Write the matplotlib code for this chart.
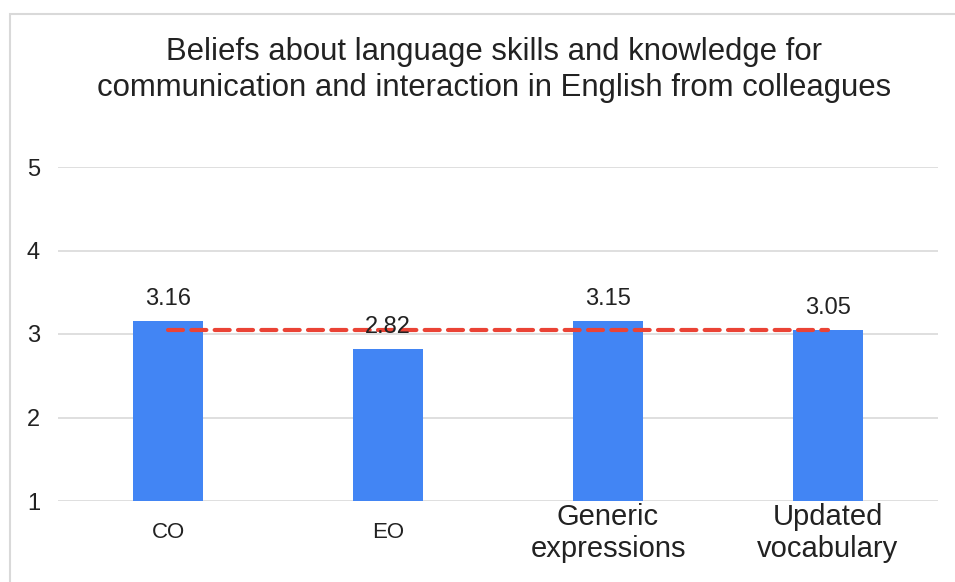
import matplotlib.pyplot as plt
from matplotlib.patches import Rectangle
import numpy as np

# chart data
categories = ['CO', 'EO', 'Generic\nexpressions', 'Updated\nvocabulary']
scores = [3.16, 2.82, 3.15, 3.05]
score_labels = ['3.16', '2.82', '3.15', '3.05']
yticks = [1, 2, 3, 4, 5]

plt.rcParams['font.family'] = ['Liberation Sans', 'DejaVu Sans']

fig = plt.figure(figsize=(9.55, 5.82), dpi=100)
ax = fig.add_axes([58/955, 1-501/582, 880/955, 334/582])

# outer frame of the chart
fig.patches.append(Rectangle((10/955, -0.05), 1.2, 1-14/582+0.05, transform=fig.transFigure,
                             fill=False, edgecolor='#d9d9d9', linewidth=1.5))

x = np.arange(len(categories))
base = 1
ax.bar(x, np.array(scores) - base, bottom=base, width=0.32, color='#4285f4', zorder=2)

# mean line across the bars
mean = np.mean(scores)
ax.plot([x[0], x[-1]], [mean, mean], color='#ea4335', linewidth=3, linestyle=(0, (3.6, 2.0)),
        solid_capstyle='round', dash_capstyle='round', zorder=3)

for xi, s, lab in zip(x, scores, score_labels):
    ax.annotate(lab, (xi, s), xytext=(0, 8), textcoords='offset points',
                ha='center', va='bottom', fontsize=17, color='#222222', zorder=4)

ax.set_xlim(-0.5, len(categories) - 0.5)
ax.set_ylim(1, 5)
ax.set_yticks(yticks)
ax.set_yticklabels([str(t) for t in yticks], fontsize=17, color='#222222')
ax.set_xticks(x)
ax.set_xticklabels(categories, color='#222222')
for i, t in enumerate(ax.get_xticklabels()):
    t.set_fontsize(16 if i < 2 else 21)
    t.set_linespacing(1.17)
    t.set_verticalalignment('center')
ax.tick_params(axis='y', length=0, pad=13)
ax.tick_params(axis='x', length=0, pad=23)
ax.grid(axis='y', color='#d9d9d9', linewidth=1.2, zorder=0)
for sp in ax.spines.values():
    sp.set_visible(False)

fig.text(494/955, 1-70/582, 'Beliefs about language skills and knowledge for\n'
         'communication and interaction in English from colleagues',
         ha='center', va='center', fontsize=22.4, color='#222222', linespacing=1.28)

fig.savefig('out.png', dpi=100)
